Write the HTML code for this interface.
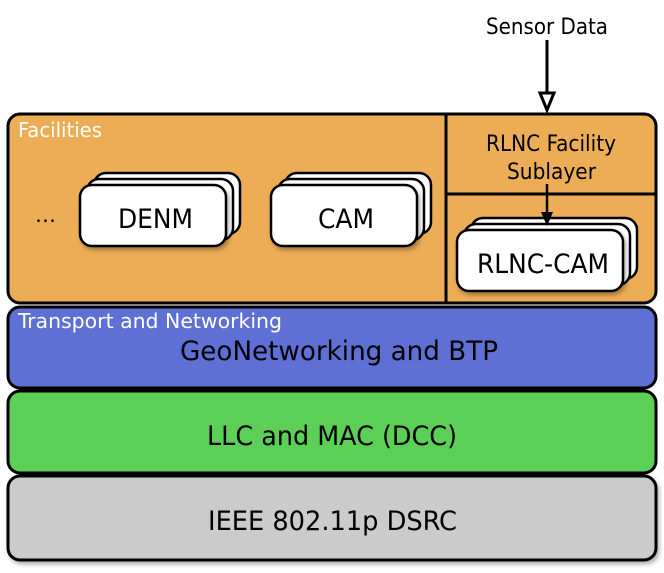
<!DOCTYPE html>
<html><head><meta charset="utf-8"><style>
html,body{margin:0;padding:0;background:#fff;width:664px;height:573px;overflow:hidden}
svg text{font-family:"DejaVu Sans Condensed","DejaVu Sans","Liberation Sans",sans-serif}
</style></head><body>
<svg width="664" height="573" viewBox="0 0 664 573" xmlns="http://www.w3.org/2000/svg">
<defs>
<filter id="sh" x="-10%" y="-10%" width="130%" height="140%"><feDropShadow dx="2" dy="3" stdDeviation="2" flood-color="#000" flood-opacity="0.3"/></filter>
</defs>
<text x="486" y="34" font-size="22" textLength="122" lengthAdjust="spacingAndGlyphs">Sensor Data</text>
<rect x="8" y="476" width="648" height="84" rx="12" fill="#cbcbcb" stroke="#000" stroke-width="3" filter="url(#sh)"/>
<text x="208" y="530" font-size="27" textLength="249" lengthAdjust="spacingAndGlyphs">IEEE 802.11p DSRC</text>
<rect x="8" y="391" width="648" height="82" rx="12" fill="#5ccf56" stroke="#000" stroke-width="3"/>
<text x="207" y="445" font-size="27" textLength="250" lengthAdjust="spacingAndGlyphs">LLC and MAC (DCC)</text>
<rect x="8" y="307" width="648" height="81" rx="12" fill="#5e70d4" stroke="#000" stroke-width="3"/>
<text x="18" y="328" font-size="20" fill="#fff" textLength="264" lengthAdjust="spacingAndGlyphs">Transport and Networking</text>
<text x="180" y="360" font-size="27" textLength="318" lengthAdjust="spacingAndGlyphs">GeoNetworking and BTP</text>
<rect x="8" y="114" width="648" height="189" rx="12" fill="#ecad56" stroke="#000" stroke-width="3"/>
<line x1="446" y1="114" x2="446" y2="303" stroke="#000" stroke-width="3"/>
<line x1="446" y1="194" x2="656" y2="194" stroke="#000" stroke-width="3"/>
<text x="18" y="137" font-size="20" fill="#fff" textLength="84" lengthAdjust="spacingAndGlyphs">Facilities</text>
<text x="486" y="151" font-size="22" textLength="130" lengthAdjust="spacingAndGlyphs">RLNC Facility</text>
<text x="507" y="179" font-size="22" textLength="89" lengthAdjust="spacingAndGlyphs">Sublayer</text>
<text x="35" y="222" font-size="20" textLength="21" lengthAdjust="spacingAndGlyphs">...</text>
<g stroke="#000" stroke-width="2.5" fill="#fff">
<rect x="94" y="173" width="146" height="61" rx="12"/>
<rect x="87" y="179" width="146" height="61" rx="12"/>
<rect x="80" y="185" width="146" height="61" rx="12" filter="url(#sh)"/>
<rect x="285" y="173" width="146" height="61" rx="12"/>
<rect x="278" y="179" width="146" height="61" rx="12"/>
<rect x="271" y="185" width="146" height="61" rx="12" filter="url(#sh)"/>
<rect x="471" y="218" width="166" height="61" rx="12"/>
<rect x="464" y="224" width="166" height="61" rx="12"/>
<rect x="457" y="230" width="166" height="61" rx="12" filter="url(#sh)"/>
</g>
<text x="118" y="228" font-size="27" textLength="75" lengthAdjust="spacingAndGlyphs">DENM</text>
<text x="318" y="228" font-size="27" textLength="56" lengthAdjust="spacingAndGlyphs">CAM</text>
<text x="477" y="273" font-size="27" textLength="132" lengthAdjust="spacingAndGlyphs">RLNC-CAM</text>
<line x1="547" y1="40" x2="547" y2="93" stroke="#000" stroke-width="3"/>
<polygon points="540,93 554,93 547,110" fill="#fff" stroke="#000" stroke-width="3"/>
<line x1="547" y1="184" x2="547" y2="215" stroke="#000" stroke-width="2.5"/>
<polygon points="541,212 553,212 547,226" fill="#000"/>
</svg>
</body></html>
